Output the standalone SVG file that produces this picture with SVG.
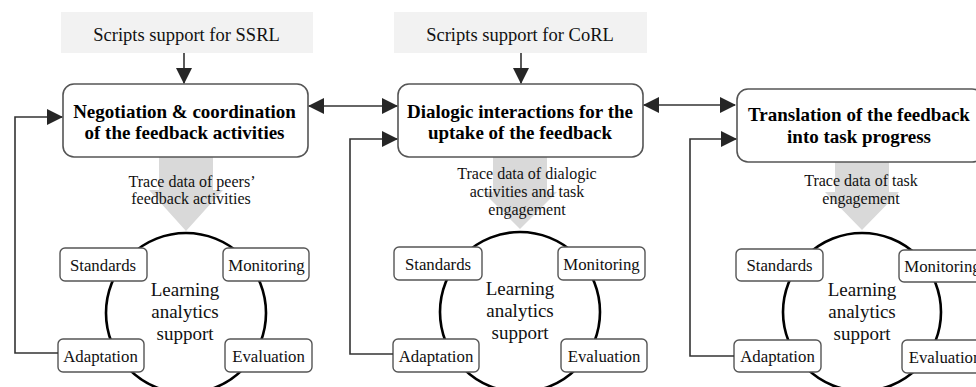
<svg xmlns="http://www.w3.org/2000/svg" width="976" height="387" viewBox="0 0 976 387">
<defs>
<style>
.script{fill:#f2f2f2;stroke:none}
.main{fill:#fff;stroke:#555;stroke-width:1.6}
.trace{fill:#d9d9d9;stroke:none}
.circ{fill:#fff;stroke:#000;stroke-width:2.6}
.small{fill:#fff;stroke:#555;stroke-width:1.4}
.con{fill:none;stroke:#333;stroke-width:1.6}
.t{font-family:'Liberation Serif',serif;fill:#111;text-anchor:middle}
.stxt{font-size:18.5px}
.mtxt{font-size:19px;font-weight:bold;fill:#000}
.ttxt{font-size:16px}
.smtxt{font-size:16.8px}
.latxt{font-size:19px}
</style>
<marker id="ah" viewBox="0 0 16 16" refX="15" refY="8" markerWidth="16" markerHeight="16" markerUnits="userSpaceOnUse" orient="auto-start-reverse">
<path d="M0,0 L16,8 L0,16 Z" fill="#262626"/>
</marker>
</defs>
<rect width="976" height="387" fill="#fff"/>

<g id="scripts-ssrl">
<rect class="script" x="61" y="12" width="252" height="41"/>
<text class="t stxt" x="186.5" y="41">Scripts support for SSRL</text>
</g>
<g id="scripts-corl">
<rect class="script" x="394" y="12" width="253" height="41"/>
<text class="t stxt" x="520" y="41">Scripts support for CoRL</text>
</g>

<g id="trace1">
<path class="trace" d="M159,150 L213,150 L213,190 L223,190 L186,231 L149,190 L159,190 Z"/>
<text class="t ttxt" x="192" y="187">Trace data of peers’</text>
<text class="t ttxt" x="191" y="204">feedback activities</text>
</g>
<g id="trace2">
<path class="trace" d="M493,150 L547,150 L547,192 L557,192 L520,229 L483,192 L493,192 Z"/>
<text class="t ttxt" x="527" y="179">Trace data of dialogic</text>
<text class="t ttxt" x="527" y="197">activities and task</text>
<text class="t ttxt" x="527" y="215">engagement</text>
</g>
<g id="trace3">
<path class="trace" d="M835,155 L889,155 L889,192 L899,192 L862,230 L825,192 L835,192 Z"/>
<text class="t ttxt" x="861" y="186">Trace data of task</text>
<text class="t ttxt" x="861" y="204">engagement</text>
</g>

<g id="box1">
<rect class="main" x="63" y="84" width="245" height="73" rx="11"/>
<text class="t mtxt" x="184.5" y="118">Negotiation &amp; coordination</text>
<text class="t mtxt" x="184.5" y="139">of the feedback activities</text>
</g>
<g id="box2">
<rect class="main" x="398" y="84" width="245" height="73" rx="11"/>
<text class="t mtxt" x="520" y="118">Dialogic interactions for the</text>
<text class="t mtxt" x="520" y="139">uptake of the feedback</text>
</g>
<g id="box3">
<rect class="main" x="737" y="89" width="246" height="73" rx="11"/>
<text class="t mtxt" x="859" y="121">Translation of the feedback</text>
<text class="t mtxt" x="859" y="143">into task progress</text>
</g>

<g id="cycle1">
<circle class="circ" cx="186" cy="313" r="80"/>
<text class="t latxt" x="185" y="296">Learning</text>
<text class="t latxt" x="185" y="318">analytics</text>
<text class="t latxt" x="185" y="340">support</text>
</g>
<g id="cycle2">
<circle class="circ" cx="520" cy="312" r="80"/>
<text class="t latxt" x="520" y="295">Learning</text>
<text class="t latxt" x="520" y="317">analytics</text>
<text class="t latxt" x="520" y="339">support</text>
</g>
<g id="cycle3">
<circle class="circ" cx="862" cy="312" r="79"/>
<text class="t latxt" x="862" y="296">Learning</text>
<text class="t latxt" x="862" y="318">analytics</text>
<text class="t latxt" x="862" y="340">support</text>
</g>

<g id="standards1"><rect class="small" x="60" y="248" width="87" height="33" rx="5"/><text class="t smtxt" x="103" y="271">Standards</text></g>
<g id="monitoring1"><rect class="small" x="223" y="248" width="86" height="33" rx="5"/><text class="t smtxt" x="266.5" y="271">Monitoring</text></g>
<g id="adaptation1"><rect class="small" x="58" y="339" width="86" height="33" rx="5"/><text class="t smtxt" x="100.5" y="362">Adaptation</text></g>
<g id="evaluation1"><rect class="small" x="225" y="339" width="87" height="33" rx="5"/><text class="t smtxt" x="268.5" y="362">Evaluation</text></g>

<g id="standards2"><rect class="small" x="394" y="247" width="88" height="33" rx="5"/><text class="t smtxt" x="438" y="270">Standards</text></g>
<g id="monitoring2"><rect class="small" x="558" y="247" width="87" height="33" rx="5"/><text class="t smtxt" x="601.5" y="270">Monitoring</text></g>
<g id="adaptation2"><rect class="small" x="393" y="339" width="86" height="33" rx="5"/><text class="t smtxt" x="436" y="362">Adaptation</text></g>
<g id="evaluation2"><rect class="small" x="561" y="339" width="86" height="33" rx="5"/><text class="t smtxt" x="604" y="362">Evaluation</text></g>

<g id="standards3"><rect class="small" x="736" y="249" width="87" height="32" rx="5"/><text class="t smtxt" x="779.5" y="271">Standards</text></g>
<g id="monitoring3"><rect class="small" x="899" y="250" width="86" height="32" rx="5"/><text class="t smtxt" x="942.5" y="272">Monitoring</text></g>
<g id="adaptation3"><rect class="small" x="734" y="340" width="87" height="32" rx="5"/><text class="t smtxt" x="777.5" y="362">Adaptation</text></g>
<g id="evaluation3"><rect class="small" x="902" y="340" width="86" height="33" rx="5"/><text class="t smtxt" x="945" y="363">Evaluation</text></g>

<g id="connectors">
<line class="con" x1="184" y1="53" x2="184" y2="83" marker-end="url(#ah)"/>
<line class="con" x1="521" y1="53" x2="521" y2="83" marker-end="url(#ah)"/>
<line class="con" x1="309" y1="106" x2="397" y2="106" marker-start="url(#ah)" marker-end="url(#ah)"/>
<line class="con" x1="644" y1="105" x2="735" y2="105" marker-start="url(#ah)" marker-end="url(#ah)"/>
<polyline class="con" points="58,353 15,353 15,117 62,117" marker-end="url(#ah)"/>
<polyline class="con" points="393,354 350,354 350,139 397,139" marker-end="url(#ah)"/>
<polyline class="con" points="734,356 690,356 690,139 736,139" marker-end="url(#ah)"/>
</g>
</svg>
